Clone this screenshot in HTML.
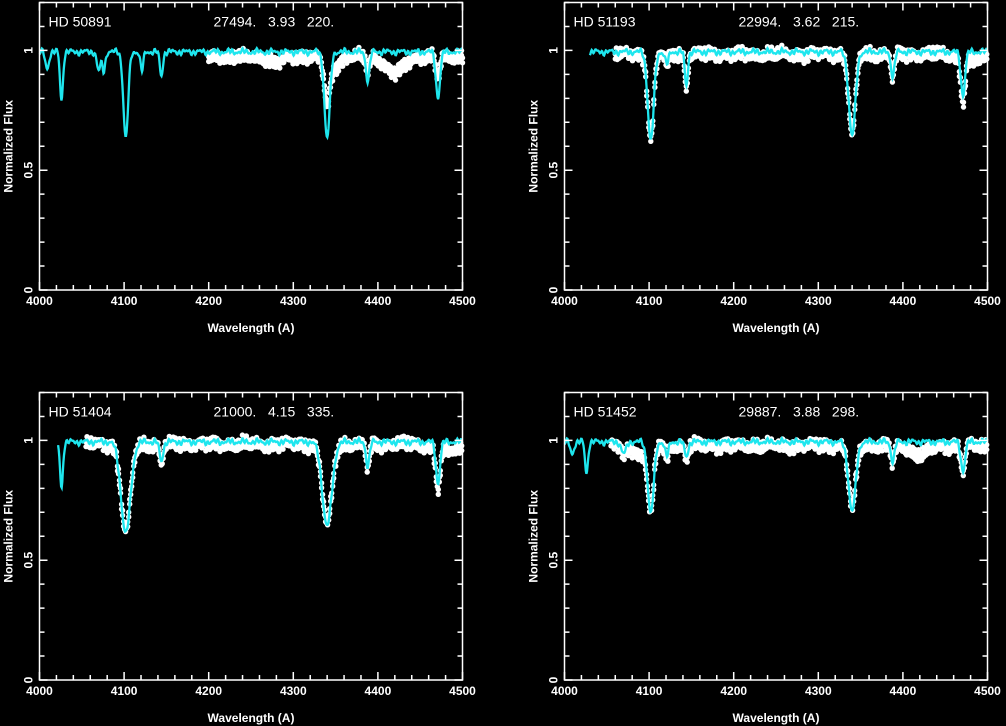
<!DOCTYPE html>
<html><head><meta charset="utf-8"><style>
html,body{margin:0;padding:0;background:#000;width:1006px;height:726px;overflow:hidden}
svg text{font-family:"Liberation Sans",sans-serif;fill:#fff;font-weight:bold}
</style></head><body>
<svg id="s" width="1006" height="726" xmlns="http://www.w3.org/2000/svg"></svg>
<script>
const S=document.getElementById('s');let out='';
const panels=[
 {x0:39.5,x1:462.5,yt:2.5,yb:290,name:'HD 50891',par:'27494.   3.93   220.',m0:4000,d0:4200,off:0.03,dscale:0.45,
  lines:[[4009,.07,3],[4026,.2,2.5],[4070,.08,3],[4076,.08,2.5],[4102,.36,4],[4121,.08,2.5],[4144,.1,2.5],[4340,.36,4.5],[4388,.12,3],[4471,.19,3.5]],
  extra:[[4420,.07,15],[4280,.03,10],[4345,.05,12]]},
 {x0:564.5,x1:987.5,yt:2.5,yb:290,name:'HD 51193',par:'22994.   3.62   215.',m0:4030,d0:4060,off:0.02,dscale:0.95,
  lines:[[4102,.37,5],[4121,.05,3],[4144,.14,2.5],[4340,.35,5.5],[4388,.1,3],[4471,.18,3.5]],extra:[[4480,.03,20]]},
 {x0:39.5,x1:462.5,yt:392.5,yb:680,name:'HD 51404',par:'21000.   4.15   335.',m0:4022,d0:4055,off:0.02,dscale:0.95,
  lines:[[4026,.19,2.5],[4102,.38,8],[4144,.08,3],[4340,.35,8],[4388,.1,3],[4471,.17,3.5]],extra:[[4480,.03,20]]},
 {x0:564.5,x1:987.5,yt:392.5,yb:680,name:'HD 51452',par:'29887.   3.88   298.',m0:4000,d0:4055,off:0.025,dscale:0.9,
  lines:[[4009,.05,3],[4026,.13,2.5],[4070,.05,4],[4102,.3,5],[4121,.06,3],[4144,.06,3],[4340,.29,6],[4388,.08,3],[4471,.12,3.5]],extra:[[4420,.04,15],[4090,.04,10]]}
];
function model(p,w,sc){sc=sc||1;let v=1;for(const l of p.lines)v-=sc*l[1]*Math.exp(-Math.pow((w-l[0])/l[2],2));
 v-=0.012*(1+Math.sin(w*0.37))*0.5+0.01*Math.sin(w*1.3)*Math.sin(w*0.21);return v;}
panels.forEach((p,i)=>{
 const X=w=>p.x0+(w-4000)/500*(p.x1-p.x0);
 const Y=f=>p.yb-f/1.2*(p.yb-p.yt);
 let d='';
 for(let w=p.d0;w<=4500;w+=1.2){let v=model(p,w,p.dscale)-p.off;for(const e of p.extra)v-=e[1]*Math.exp(-Math.pow((w-e[0])/e[2],2));
  v+=0.01*Math.sin(w*2.7+i)+0.006*Math.sin(w*5.1);
  d+=`<circle cx="${X(w).toFixed(1)}" cy="${Y(v).toFixed(1)}" r="2.7"/>`;
  d+=`<circle cx="${X(w).toFixed(1)}" cy="${Y(v+0.02).toFixed(1)}" r="2.7"/>`;}
 out+=`<g fill="#fff">${d}</g>`;
 let pts=[];for(let w=p.m0;w<=4500;w+=0.7)pts.push(X(w).toFixed(1)+','+Y(model(p,w)).toFixed(1));
 out+=`<polyline points="${pts.join(' ')}" fill="none" stroke="#1ee6ee" stroke-width="2.3"/>`;
 out+=`<rect x="${p.x0}" y="${p.yt}" width="${p.x1-p.x0}" height="${p.yb-p.yt}" fill="none" stroke="#fff" stroke-width="1.5"/>`;
 let t='';
 for(let w=4000;w<=4500;w+=20){const x=X(w),L=(w%100==0)?8:5;t+=`M${x} ${p.yb}v-${L}M${x} ${p.yt}v${L}`;}
 for(let k=0;k<=12;k++){const y=Y(k/10),L=(k%5==0)?8:5;t+=`M${p.x0} ${y}h${L}M${p.x1} ${y}h-${L}`;}
 out+=`<path d="${t}" stroke="#fff" stroke-width="1.5"/>`;
 for(let w=4000;w<=4500;w+=100)out+=`<text x="${X(w)}" y="${p.yb+15}" font-size="12" text-anchor="middle">${w}</text>`;
 [[0,'0'],[0.5,'0.5'],[1,'1']].forEach(([f,s])=>{const y=Y(f);out+=`<text transform="translate(${p.x0-7},${y}) rotate(-90)" font-size="12" text-anchor="middle">${s}</text>`;});
 out+=`<text x="${(p.x0+p.x1)/2}" y="${p.yb+42}" font-size="12" text-anchor="middle">Wavelength (A)</text>`;
 out+=`<text transform="translate(${p.x0-27},${(p.yt+p.yb)/2}) rotate(-90)" font-size="12" text-anchor="middle">Normalized Flux</text>`;
 out+=`<text x="${p.x0+9}" y="${p.yt+24}" font-size="14" style="font-weight:normal" xml:space="preserve">${p.name}</text>`;
 out+=`<text x="${p.x0+174}" y="${p.yt+24}" font-size="14" style="font-weight:normal" xml:space="preserve">${p.par}</text>`;
});
S.innerHTML=out;
</script>
</body></html>
